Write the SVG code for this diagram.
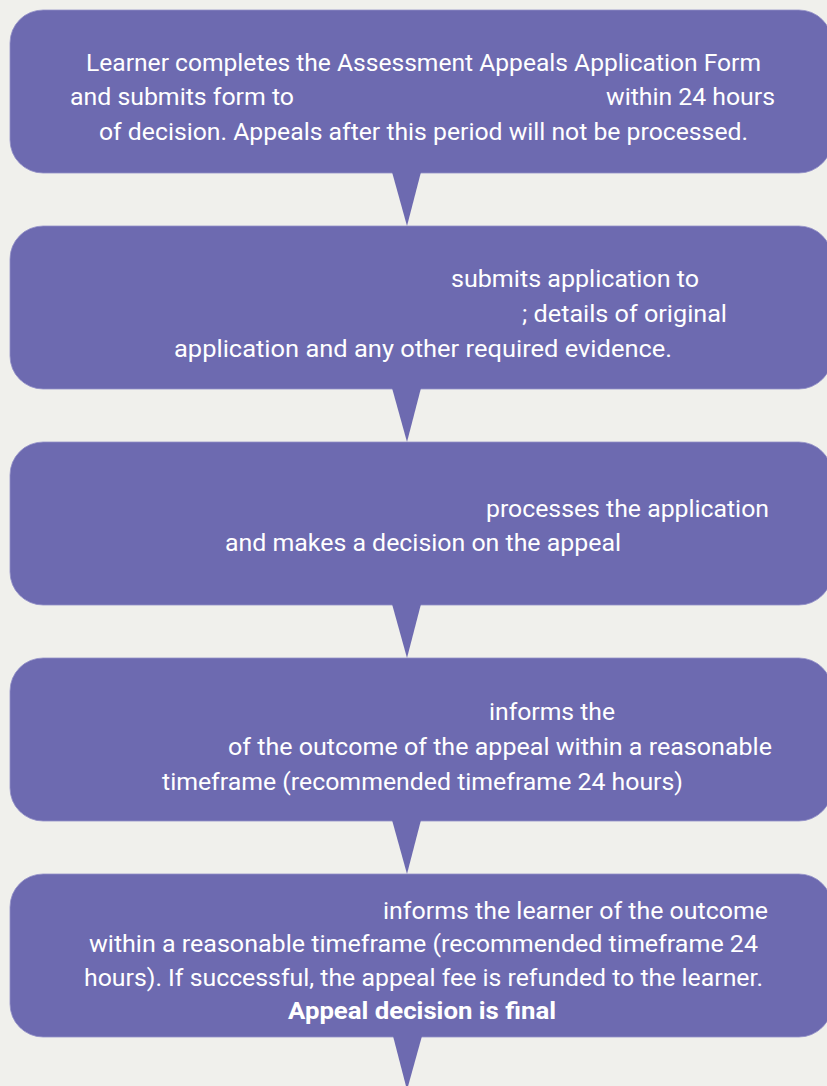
<svg xmlns="http://www.w3.org/2000/svg" width="827" height="1086" viewBox="0 0 827 1086">
<style>
.bg{fill:#f0f0ec}
.box{fill:#6d6ab0;stroke:#9390c8;stroke-width:0.8}
.ptr{fill:#6d6ab0}
.t{font-family:Roboto,"Liberation Sans",sans-serif;font-size:24px;fill:#ffffff}
.b{font-weight:bold}
</style>
<rect class="bg" x="0" y="0" width="827" height="1086"/>
<g id="node1">
<rect class="box" x="10" y="10" width="822" height="163" rx="33"/>
<text class="t" x="86" y="71" textLength="675" lengthAdjust="spacingAndGlyphs">Learner completes the Assessment Appeals Application Form</text>
<text class="t" x="70" y="105" textLength="224" lengthAdjust="spacingAndGlyphs">and submits form to</text>
<text class="t" x="606" y="105" textLength="169" lengthAdjust="spacingAndGlyphs">within 24 hours</text>
<text class="t" x="99" y="140" textLength="649" lengthAdjust="spacingAndGlyphs">of decision. Appeals after this period will not be processed.</text>
</g>
<g id="node2">
<rect class="box" x="10" y="226" width="822" height="163" rx="33"/>
<text class="t" x="451" y="287" textLength="248" lengthAdjust="spacingAndGlyphs">submits application to</text>
<text class="t" x="522" y="322" textLength="205" lengthAdjust="spacingAndGlyphs">; details of original</text>
<text class="t" x="174" y="357" textLength="498" lengthAdjust="spacingAndGlyphs">application and any other required evidence.</text>
</g>
<g id="node3">
<rect class="box" x="10" y="442" width="822" height="163" rx="33"/>
<text class="t" x="486" y="517" textLength="283" lengthAdjust="spacingAndGlyphs">processes the application</text>
<text class="t" x="225" y="551" textLength="396" lengthAdjust="spacingAndGlyphs">and makes a decision on the appeal</text>
</g>
<g id="node4">
<rect class="box" x="10" y="658" width="822" height="163" rx="33"/>
<text class="t" x="489" y="720" textLength="126" lengthAdjust="spacingAndGlyphs">informs the</text>
<text class="t" x="228" y="755" textLength="544" lengthAdjust="spacingAndGlyphs">of the outcome of the appeal within a reasonable</text>
<text class="t" x="162" y="790" textLength="521" lengthAdjust="spacingAndGlyphs">timeframe (recommended timeframe 24 hours)</text>
</g>
<g id="node5">
<rect class="box" x="10" y="874" width="822" height="163" rx="33"/>
<text class="t" x="383" y="919" textLength="385" lengthAdjust="spacingAndGlyphs">informs the learner of the outcome</text>
<text class="t" x="89" y="952" textLength="669" lengthAdjust="spacingAndGlyphs">within a reasonable timeframe (recommended timeframe 24</text>
<text class="t" x="84" y="986" textLength="679" lengthAdjust="spacingAndGlyphs">hours). If successful, the appeal fee is refunded to the learner.</text>
<text class="t b" x="288" y="1019" textLength="268" lengthAdjust="spacingAndGlyphs">Appeal decision is final</text>
</g>
<g id="connectors">
<polygon class="ptr" points="392,172 421,172 407,226"/>
<polygon class="ptr" points="392,388 421,388 407,442"/>
<polygon class="ptr" points="392,604 421,604 407,658"/>
<polygon class="ptr" points="392,820 421,820 407,874"/>
<polygon class="ptr" points="393,1036 422,1036 407,1090"/>
</g>
</svg>
